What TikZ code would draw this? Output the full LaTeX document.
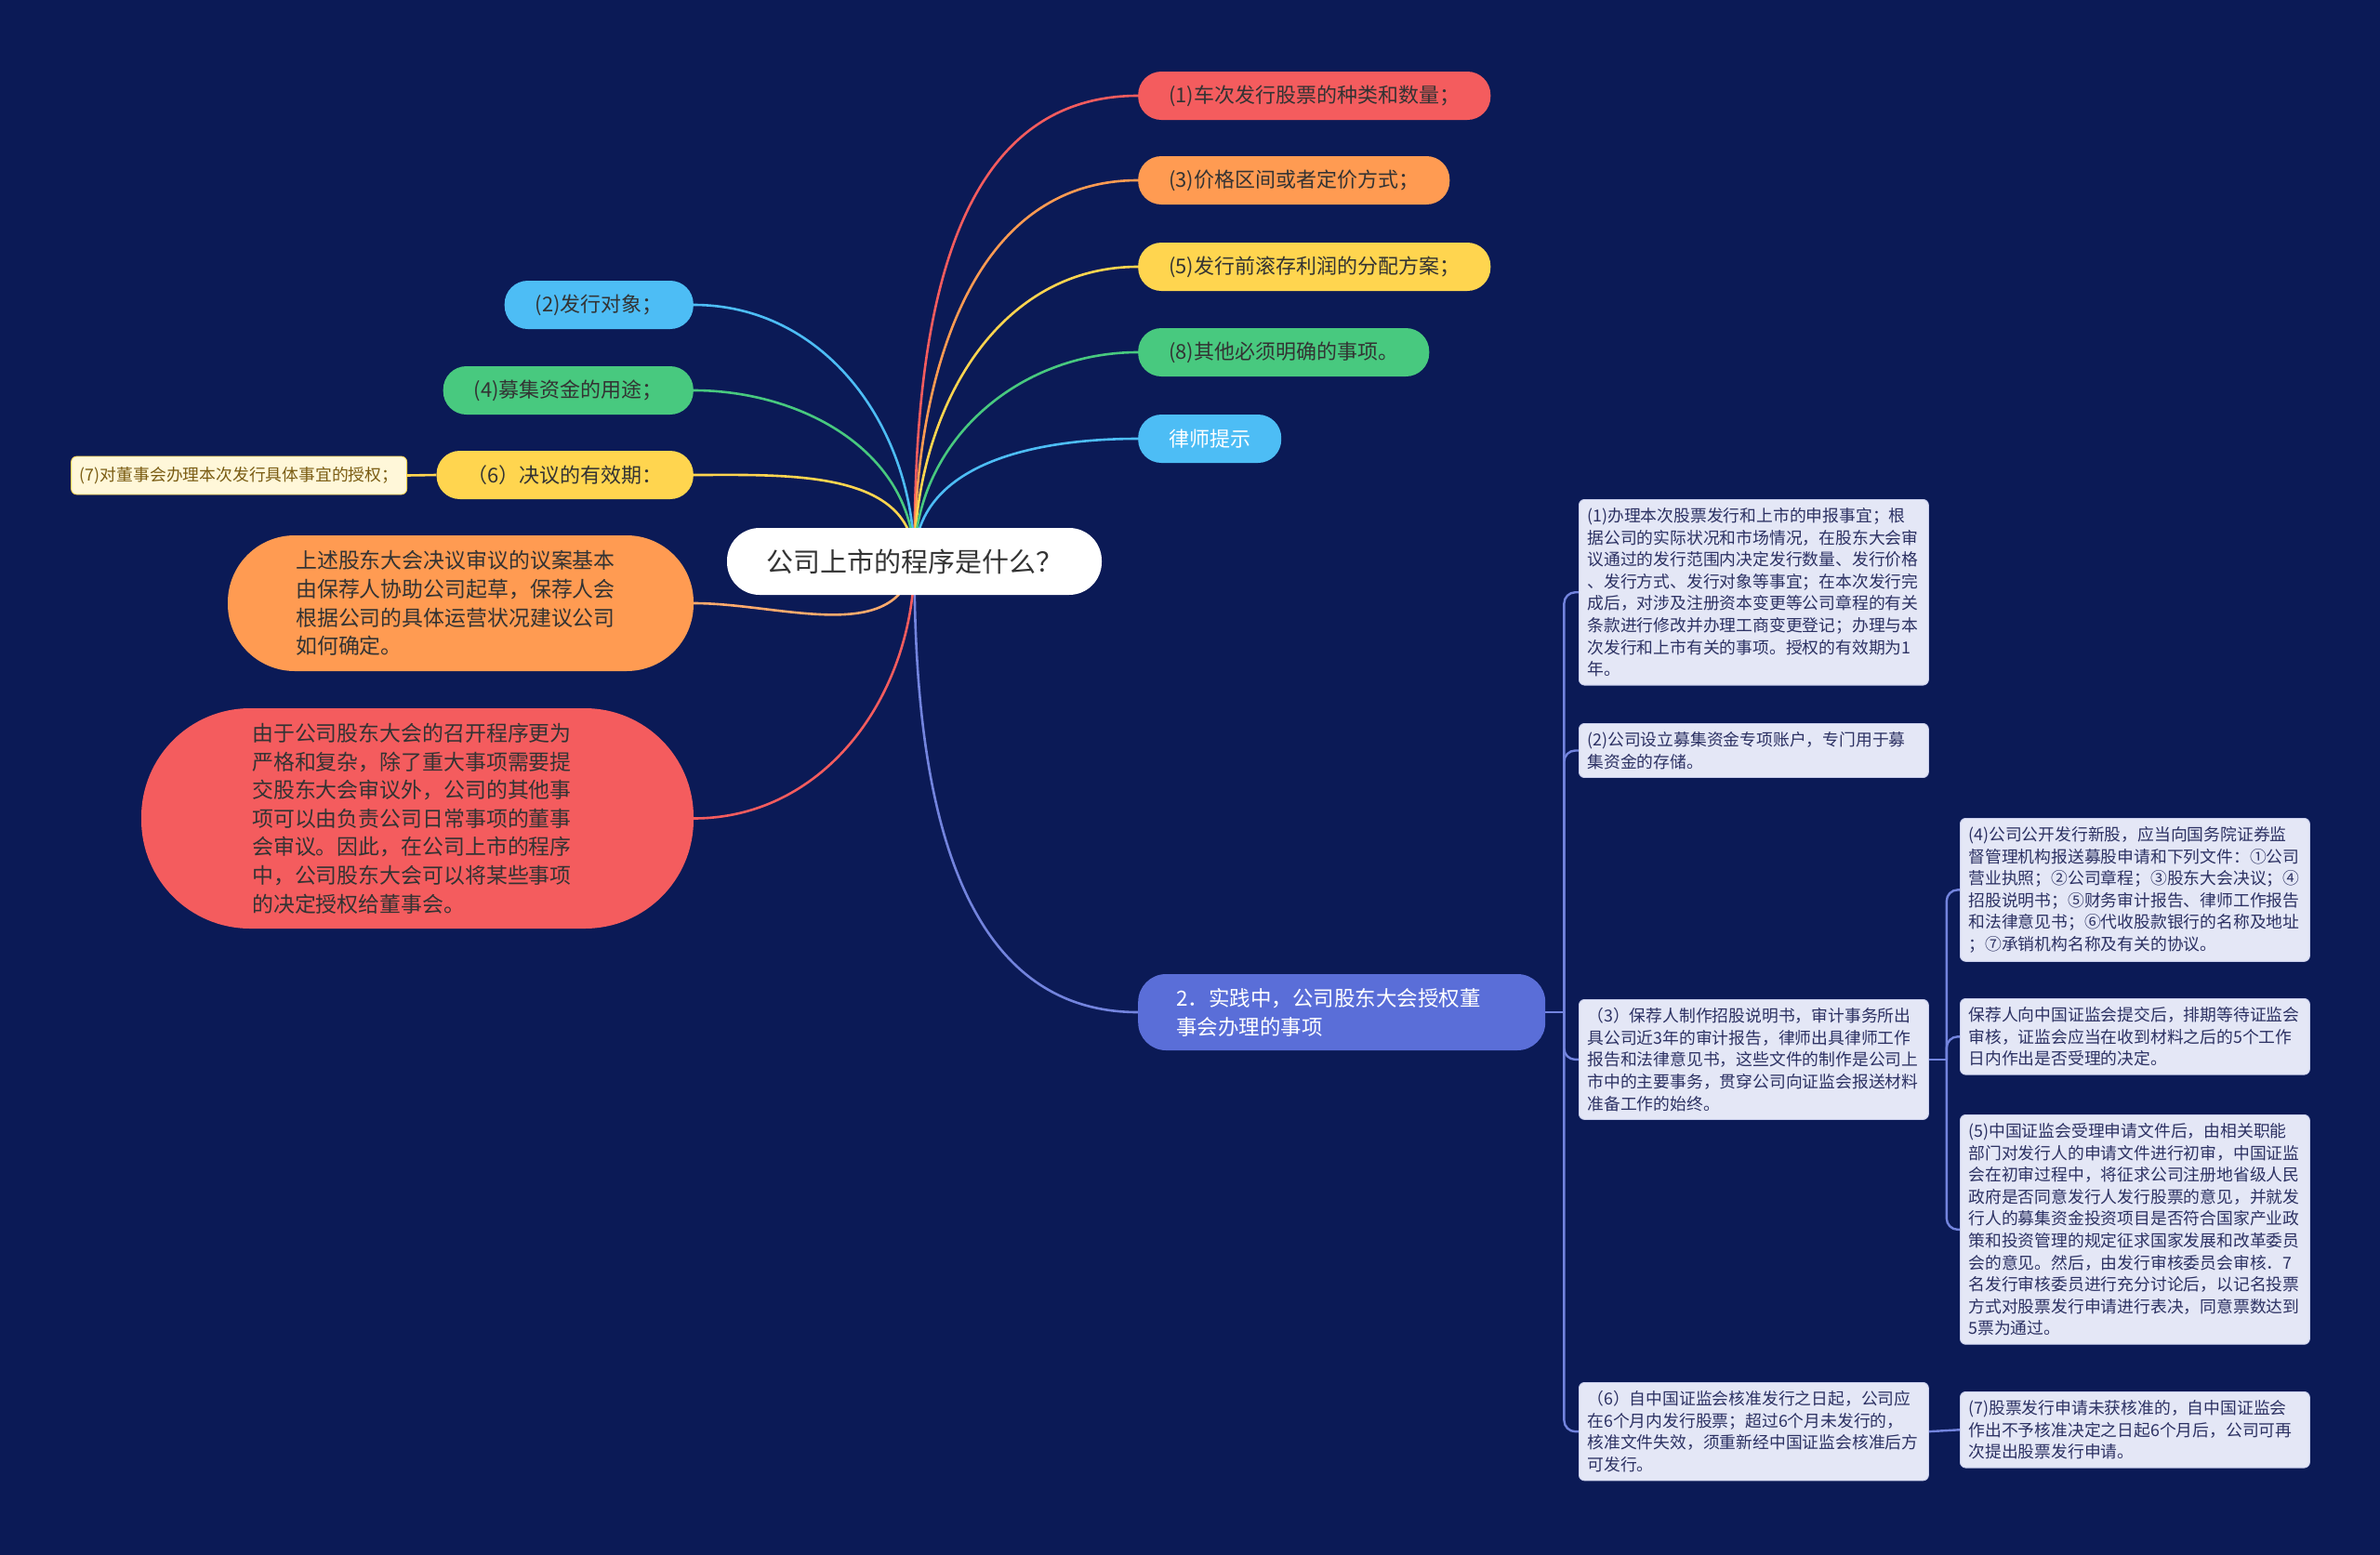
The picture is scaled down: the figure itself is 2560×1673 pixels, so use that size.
\documentclass[tikz,border=0pt]{standalone}
\usepackage{fontspec}
\setmainfont{Noto Sans CJK SC}
\usetikzlibrary{calc}
\definecolor{bgc}{HTML}{0B1A56}
\definecolor{cred}{HTML}{F45C5E}
\definecolor{corange}{HTML}{FF9B52}
\definecolor{cyellow}{HTML}{FFD54F}
\definecolor{cgreen}{HTML}{48C97F}
\definecolor{cblue}{HTML}{4DBDF5}
\definecolor{cpurple}{HTML}{5A6ED8}
\definecolor{dk}{HTML}{333333}
\definecolor{boxfill}{HTML}{E4E7F6}
\definecolor{boxline}{HTML}{C8CDEB}
\definecolor{boxtext}{HTML}{2C3163}
\definecolor{creamfill}{HTML}{FFF7D9}
\definecolor{creamtext}{HTML}{7A5C12}
\pgfdeclarelayer{back}
\pgfdeclarelayer{lines}
\pgfsetlayers{back,lines,main}
\tikzset{
  rootnode/.style={fill=white, rounded corners=35pt, minimum height=72pt, inner xsep=42pt, text=dk, font=\fontsize{29}{35}\selectfont},
  smallbr/.style={rounded corners=25pt, minimum height=52pt, inner xsep=33pt, inner ysep=0pt, text=dk, font=\fontsize{22}{26}\selectfont},
  bignode/.style={inner sep=0pt, text=dk, align=left, font=\fontsize{22.9}{30.6}\selectfont},
  infobox/.style={fill=boxfill, draw=boxline, line width=0.8pt, rounded corners=6pt, text width=358pt, inner xsep=9pt, inner ysep=9pt, align=left, text=boxtext, font=\fontsize{17.8}{23.6}\selectfont, anchor=north west},
  conn/.style={line width=2.6pt},
  brk/.style={line width=2.4pt, draw=cpurple!85!white, rounded corners=12pt}
}
\begin{document}
\begin{tikzpicture}[x=1pt,y=-1pt]
\begin{pgfonlayer}{back}
\fill[bgc] (0,0) rectangle (2560,1673);
\end{pgfonlayer}
\useasboundingbox (0,0) rectangle (2560,1673);

% root
\node[rootnode] (root) at (983.5,604) {公司上市的程序是什么？};

% right branches
\node[smallbr, fill=cred, anchor=west] (r1) at (1224,103) {(1)车次发行股票的种类和数量；};
\node[smallbr, fill=corange, anchor=west] (r2) at (1224,194) {(3)价格区间或者定价方式；};
\node[smallbr, fill=cyellow, anchor=west] (r3) at (1224,287) {(5)发行前滚存利润的分配方案；};
\node[smallbr, fill=cgreen, anchor=west] (r4) at (1224,379) {(8)其他必须明确的事项。};
\node[smallbr, fill=cblue, anchor=west, text=white] (r5) at (1224,472) {律师提示};
\node[fill=cpurple, rounded corners=30pt, minimum height=82pt, text width=356pt, text=white, inner xsep=41pt, align=left, font=\fontsize{22.5}{31}\selectfont, anchor=west] (p2) at (1224,1089) {2．实践中，公司股东大会授权董\\事会办理的事项};

% left branches
\node[smallbr, fill=cblue, anchor=east] (l1) at (746,328) {(2)发行对象；};
\node[smallbr, fill=cgreen, anchor=east] (l2) at (746,420) {(4)募集资金的用途；};
\node[smallbr, fill=cyellow, anchor=east] (l3) at (746,511) {（6）决议的有效期：};
\node[fill=creamfill, draw=cyellow, line width=0.8pt, rounded corners=6pt, minimum width=361pt, minimum height=41pt, inner xsep=9pt, inner ysep=0pt, text=creamtext, font=\fontsize{17.8}{22}\selectfont, anchor=east] (l3a) at (438,511.5) {(7)对董事会办理本次发行具体事宜的授权；};

\node[fill=corange, rounded corners=72pt, minimum width=501pt, minimum height=146pt, inner sep=0pt] (lo) at (495.5,649) {};
\node[bignode] (lotext) at (490,649) {上述股东大会决议审议的议案基本\\由保荐人协助公司起草，保荐人会\\根据公司的具体运营状况建议公司\\如何确定。};
\node[fill=cred, rounded corners=117pt, minimum width=594pt, minimum height=237pt, inner sep=0pt] (lr) at (449,880.5) {};
\node[bignode] (lrtext) at (443,880.5) {由于公司股东大会的召开程序更为\\严格和复杂，除了重大事项需要提\\交股东大会审议外，公司的其他事\\项可以由负责公司日常事项的董事\\会审议。因此，在公司上市的程序\\中，公司股东大会可以将某些事项\\的决定授权给董事会。};

% info boxes
\node[infobox] (a1) at (1698,537) {(1)办理本次股票发行和上市的申报事宜；根\\据公司的实际状况和市场情况，在股东大会审\\议通过的发行范围内决定发行数量、发行价格\\、发行方式、发行对象等事宜；在本次发行完\\成后，对涉及注册资本变更等公司章程的有关\\条款进行修改并办理工商变更登记；办理与本\\次发行和上市有关的事项。授权的有效期为1\\年。};
\node[infobox] (a2) at (1698,778) {(2)公司设立募集资金专项账户，专门用于募\\集资金的存储。};
\node[infobox] (a3) at (1698,1075) {（3）保荐人制作招股说明书，审计事务所出\\具公司近3年的审计报告，律师出具律师工作\\报告和法律意见书，这些文件的制作是公司上\\市中的主要事务，贯穿公司向证监会报送材料\\准备工作的始终。};
\node[infobox] (a6) at (1698,1487) {（6）自中国证监会核准发行之日起，公司应\\在6个月内发行股票；超过6个月未发行的，\\核准文件失效，须重新经中国证监会核准后方\\可发行。};
\node[infobox] (b4) at (2108,880) {(4)公司公开发行新股，应当向国务院证券监\\督管理机构报送募股申请和下列文件：①公司\\营业执照；②公司章程；③股东大会决议；④\\招股说明书；⑤财务审计报告、律师工作报告\\和法律意见书；⑥代收股款银行的名称及地址\\；⑦承销机构名称及有关的协议。};
\node[infobox] (bb) at (2108,1074) {保荐人向中国证监会提交后，排期等待证监会\\审核，证监会应当在收到材料之后的5个工作\\日内作出是否受理的决定。};
\node[infobox] (b5) at (2108,1199) {(5)中国证监会受理申请文件后，由相关职能\\部门对发行人的申请文件进行初审，中国证监\\会在初审过程中，将征求公司注册地省级人民\\政府是否同意发行人发行股票的意见，并就发\\行人的募集资金投资项目是否符合国家产业政\\策和投资管理的规定征求国家发展和改革委员\\会的意见。然后，由发行审核委员会审核．7\\名发行审核委员进行充分讨论后，以记名投票\\方式对股票发行申请进行表决，同意票数达到\\5票为通过。};
\node[infobox] (b7) at (2108,1497) {(7)股票发行申请未获核准的，自中国证监会\\作出不予核准决定之日起6个月后，公司可再\\次提出股票发行申请。};

\coordinate (j1) at ($(p2.east)+(20,0)$);
\coordinate (j2) at ($(a3.east)+(19,0)$);

\begin{pgfonlayer}{lines}
\draw[conn, cred] (root.center) to[out=90,in=180] (r1.west);
\draw[conn, corange] (root.center) to[out=90,in=180] (r2.west);
\draw[conn, cyellow] (root.center) to[out=90,in=180] (r3.west);
\draw[conn, cgreen] (root.center) to[out=90,in=180] (r4.west);
\draw[conn, cblue] (root.center) to[out=90,in=180] (r5.west);
\draw[conn, cpurple!85!white] (root.center) to[out=-90,in=180] (p2.west);
\draw[conn, cblue] (root.center) to[out=90,in=0] (l1.east);
\draw[conn, cgreen] (root.center) to[out=90,in=0] (l2.east);
\draw[conn, cyellow] (root.center) to[out=90,in=0] (l3.east);
\draw[conn, corange!85!white] (root.center) to[out=-100,in=0] (lo.east);
\draw[conn, cred] (root.center) to[out=-90,in=0] (lr.east);
\draw[conn, cyellow] (l3.west) -- (l3a.east);
\draw[brk] (p2.east) -- (j1);
\draw[brk] (j1) |- (a1.west);
\draw[brk] (j1) |- (a2.west);
\draw[brk] (j1) |- (a3.west);
\draw[brk] (j1) |- (a6.west);
\draw[brk] (a3.east) -- (j2);
\draw[brk] (j2) |- (b4.west);
\draw[brk] (j2) |- (bb.west);
\draw[brk] (j2) |- (b5.west);
\draw[brk] (a6.east) -- (b7.west);
\end{pgfonlayer}
\end{tikzpicture}
\end{document}
